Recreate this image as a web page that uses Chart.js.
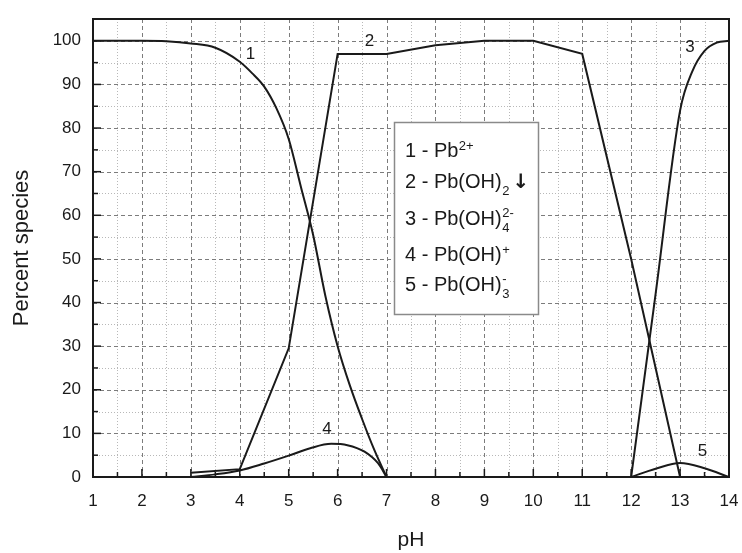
<!DOCTYPE html>
<html><head><meta charset="utf-8">
<script src="https://cdn.jsdelivr.net/npm/chart.js@4/dist/chart.umd.min.js"></script>
<style>html,body{margin:0;padding:0;background:#fff}#wrap{width:742px;height:553px}</style>
</head><body><div id="wrap"><canvas id="c" width="742" height="553"></canvas></div>
<script>
// ---- data ----
const curve1_pH  = [1, 2, 2.5, 3, 3.5, 4, 4.25, 4.5, 4.75, 5, 5.25, 5.5, 5.75, 6, 6.25, 6.5, 6.75, 7];
const curve1_pct = [100, 100, 99.9, 99.4, 98.4, 95.2, 92.6, 89.5, 84.5, 77.5, 66.5, 55.5, 41.5, 30, 21, 13.3, 6.2, 0];

const curve2_pH  = [3, 4, 5, 6, 7, 8, 9, 10, 11, 12, 13];
const curve2_pct = [1, 1.8, 29.5, 97, 97, 99, 100, 100, 97, 50, 0];

const curve3_pH  = [12, 12.5, 13, 13.25, 13.5, 13.75, 14];
const curve3_pct = [0, 42, 84, 93, 97.7, 99.6, 100];

const curve4_pH  = [3, 3.5, 4, 4.5, 5, 5.44, 5.87, 6.2, 6.55, 6.83, 7];
const curve4_pct = [0, 0.6, 1.5, 3.1, 4.9, 6.6, 7.6, 7.3, 5.8, 3.1, 0];

const curve5_pH  = [12, 12.5, 13, 13.5, 14];
const curve5_pct = [0, 1.9, 3.2, 2.0, 0];

const curveNames = ['1', '2', '3', '4', '5'];
const curveLabel_pH  = [4.22, 6.65, 13.2, 5.78, 13.46];
const curveLabel_pct = [96.9, 99.8, 98.5, 10.9, 5.8];

const legendLines = [
  [['1 - Pb', ''], ['2+', 'sup']],
  [['2 - Pb(OH)', ''], ['2', 'sub'], ['\u2193', 'arrow']],
  [['3 - Pb(OH)', ''], ['2-', 'supStack'], ['4', 'sub']],
  [['4 - Pb(OH)', ''], ['+', 'sup']],
  [['5 - Pb(OH)', ''], ['-', 'supStack'], ['3', 'sub']]
];

const xTitle = 'pH';
const yTitle = 'Percent species';
const yTickValues = [0, 10, 20, 30, 40, 50, 60, 70, 80, 90, 100];

const FONT = '"Liberation Sans", Arial, sans-serif';
const INK = '#1a1a1a';

function pts(xs, ys) { return xs.map((x, i) => ({x: x, y: ys[i]})); }

const decor = {
  id: 'decor',
  beforeDatasetsDraw(chart) {
    const {ctx, chartArea: {left, right, top, bottom}, scales: {x, y}} = chart;
    ctx.save();
    ctx.lineWidth = 1;
    const vline = v => { const p = Math.round(x.getPixelForValue(v)) + 0.5; ctx.beginPath(); ctx.moveTo(p, top); ctx.lineTo(p, bottom); ctx.stroke(); };
    const hline = v => { const p = Math.round(y.getPixelForValue(v)) + 0.5; ctx.beginPath(); ctx.moveTo(left, p); ctx.lineTo(right, p); ctx.stroke(); };
    // minor dotted grid
    ctx.strokeStyle = '#b8b8b8'; ctx.setLineDash([1, 2]);
    for (let v = 1.5; v < 14; v += 1) vline(v);
    for (let v = 5; v < 105; v += 10) hline(v);
    // major dashed grid
    ctx.strokeStyle = '#7c7c7c'; ctx.setLineDash([4, 3]);
    for (let v = 2; v < 14; v += 1) vline(v);
    for (let v = 10; v <= 100; v += 10) hline(v);
    ctx.restore();
  },
  afterDatasetsDraw(chart) {
    const {ctx, chartArea: {left, right, top, bottom}, scales: {x, y}} = chart;
    ctx.save();
    // frame
    ctx.setLineDash([]);
    ctx.strokeStyle = INK; ctx.lineWidth = 2;
    ctx.strokeRect(left, top, right - left, bottom - top);
    // inward ticks
    ctx.lineWidth = 1.5;
    for (let v = 1; v <= 14; v += 0.5) {
      const p = x.getPixelForValue(v); const len = (v % 1 === 0) ? 8 : 5;
      ctx.beginPath(); ctx.moveTo(p, bottom); ctx.lineTo(p, bottom - len); ctx.stroke();
    }
    for (let v = 0; v <= 100; v += 5) {
      const p = y.getPixelForValue(v); const len = (v % 10 === 0) ? 8 : 5;
      ctx.beginPath(); ctx.moveTo(left, p); ctx.lineTo(left + len, p); ctx.stroke();
    }
    // curve labels
    ctx.fillStyle = INK; ctx.font = '17px ' + FONT;
    ctx.textAlign = 'center'; ctx.textBaseline = 'middle';
    curveNames.forEach((n, i) => {
      ctx.fillText(n, x.getPixelForValue(curveLabel_pH[i]), y.getPixelForValue(curveLabel_pct[i]));
    });
    // legend box
    const bx = left + 301, by = top + 103, bw = 144, bh = 192;
    ctx.fillStyle = '#fff'; ctx.fillRect(bx, by, bw, bh);
    ctx.strokeStyle = '#8a8a8a'; ctx.lineWidth = 1.5;
    ctx.strokeRect(bx + 0.5, by + 0.5, bw, bh);
    ctx.fillStyle = INK; ctx.textAlign = 'left'; ctx.textBaseline = 'alphabetic';
    const baselines = [157, 188, 225, 261, 291];
    legendLines.forEach((line, i) => {
      let cx = bx + 11; const base = by + (baselines[i] - 122);
      let stackX = null;
      line.forEach(([t, kind]) => {
        if (kind === '') {
          ctx.font = '20px ' + FONT; ctx.fillText(t, cx, base); cx += ctx.measureText(t).width;
        } else if (kind === 'sup') {
          ctx.font = '13px ' + FONT; ctx.fillText(t, cx + 0.5, base - 7); cx += ctx.measureText(t).width + 0.5;
        } else if (kind === 'supStack') {
          ctx.font = '13px ' + FONT; ctx.fillText(t, cx + 0.5, base - 8); stackX = cx;
        } else if (kind === 'sub') {
          ctx.font = '13px ' + FONT; const sx = stackX !== null ? stackX : cx;
          ctx.fillText(t, sx + 0.5, base + 7); cx = sx + ctx.measureText(t).width + 0.5;
        } else if (kind === 'arrow') {
          ctx.font = 'bold 20px "DejaVu Sans", ' + FONT; ctx.fillText(t, cx + 3, base); cx += ctx.measureText(t).width + 3;
        }
      });
    });
    ctx.restore();
  }
};

const lineStyle = {borderColor: INK, borderWidth: 2, pointRadius: 0, fill: false};

new Chart(document.getElementById('c'), {
  type: 'line',
  data: {
    datasets: [
      Object.assign({label: '1 - Pb2+', data: pts(curve1_pH, curve1_pct), cubicInterpolationMode: 'monotone'}, lineStyle),
      Object.assign({label: '2 - Pb(OH)2', data: pts(curve2_pH, curve2_pct), tension: 0}, lineStyle),
      Object.assign({label: '3 - Pb(OH)4 2-', data: pts(curve3_pH, curve3_pct), cubicInterpolationMode: 'monotone'}, lineStyle),
      Object.assign({label: '4 - Pb(OH)+', data: pts(curve4_pH, curve4_pct), cubicInterpolationMode: 'monotone'}, lineStyle),
      Object.assign({label: '5 - Pb(OH)3 -', data: pts(curve5_pH, curve5_pct), cubicInterpolationMode: 'monotone'}, lineStyle)
    ]
  },
  options: {
    responsive: false, animation: false, devicePixelRatio: 1,
    layout: {padding: {top: 19, right: 13, left: 0, bottom: 0}},
    plugins: {legend: {display: false}, tooltip: {enabled: false}},
    scales: {
      x: {
        type: 'linear', min: 1, max: 14,
        ticks: {stepSize: 1, color: INK, font: {family: FONT, size: 17}, padding: 14, maxRotation: 0},
        grid: {display: false, drawTicks: false}, border: {display: false},
        title: {display: true, text: xTitle, color: INK, font: {family: FONT, size: 21}, padding: {top: 0, bottom: 0}},
        afterFit: s => { s.height = 76; s.paddingLeft = 0; s.paddingRight = 0; }
      },
      y: {
        type: 'linear', min: 0, max: 105,
        afterBuildTicks: s => { s.ticks = yTickValues.map(v => ({value: v})); },
        ticks: {color: INK, font: {family: FONT, size: 17}, padding: 12},
        grid: {display: false, drawTicks: false}, border: {display: false},
        title: {display: true, text: yTitle, color: INK, font: {family: FONT, size: 22}, padding: {top: 9, bottom: 0}},
        afterFit: s => { s.width = 93; s.paddingTop = 0; s.paddingBottom = 0; }
      }
    }
  },
  plugins: [decor]
});
</script>
</body></html>
